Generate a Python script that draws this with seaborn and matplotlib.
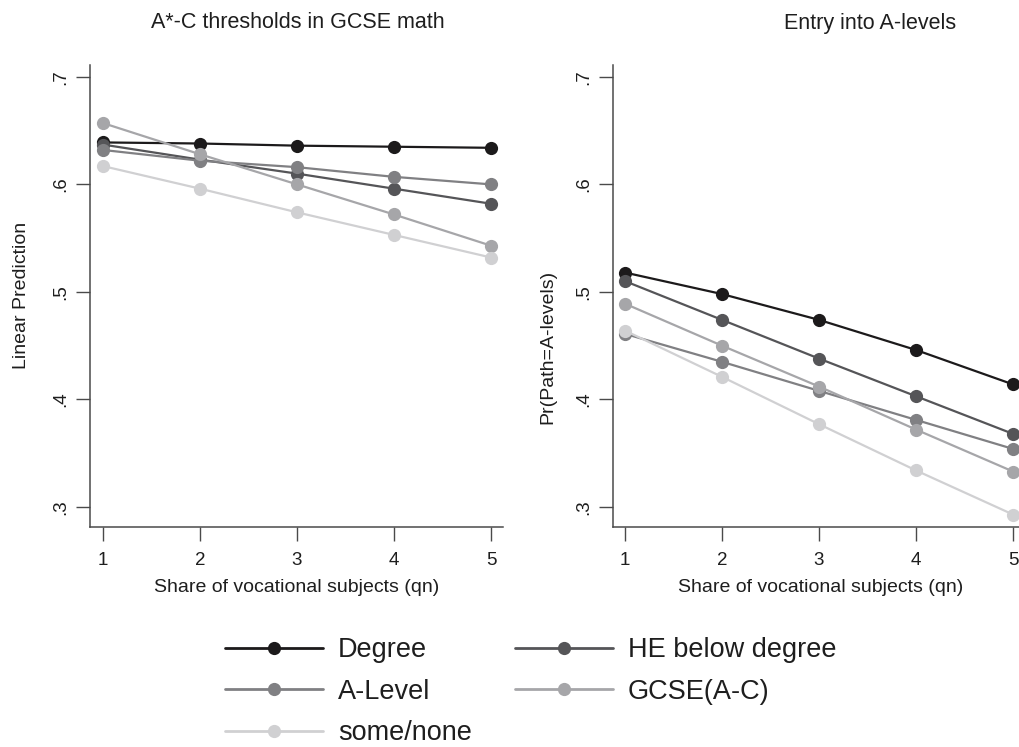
import numpy as np
import pandas as pd
import matplotlib
matplotlib.use("Agg")
import matplotlib.pyplot as plt
import seaborn as sns
from matplotlib.lines import Line2D

sns.set_theme(style="white")
plt.rcParams["font.family"] = ["Liberation Sans", "DejaVu Sans"]

# ---- data -------------------------------------------------------------
qn = [1, 2, 3, 4, 5]
groups = ["Degree", "HE below degree", "A-Level", "GCSE(A-C)", "some/none"]

# A*-C thresholds in GCSE math (linear prediction)
gcse_degree = [0.639, 0.638, 0.636, 0.635, 0.634]
gcse_he = [0.637, 0.623, 0.610, 0.596, 0.582]
gcse_alevel = [0.632, 0.622, 0.616, 0.607, 0.600]
gcse_gcse = [0.657, 0.628, 0.600, 0.572, 0.543]
gcse_none = [0.617, 0.596, 0.574, 0.553, 0.532]

# Entry into A-levels (predicted probability)
alev_degree = [0.518, 0.498, 0.474, 0.446, 0.414]
alev_he = [0.510, 0.474, 0.438, 0.403, 0.368]
alev_alevel = [0.461, 0.435, 0.408, 0.381, 0.354]
alev_gcse = [0.489, 0.450, 0.412, 0.372, 0.333]
alev_none = [0.464, 0.421, 0.377, 0.334, 0.293]

y_ticks = [0.3, 0.4, 0.5, 0.6, 0.7]
y_tick_labels = [".3", ".4", ".5", ".6", ".7"]

colors = ["#1c1a1b", "#555558", "#808083", "#a6a6a9", "#d0d0d2"]
palette = dict(zip(groups, colors))


def long_frame(series):
    rows = []
    for g, vals in zip(groups, series):
        for x, v in zip(qn, vals):
            rows.append({"qn": x, "value": v, "group": g})
    return pd.DataFrame(rows)


df_left = long_frame([gcse_degree, gcse_he, gcse_alevel, gcse_gcse, gcse_none])
df_right = long_frame([alev_degree, alev_he, alev_alevel, alev_gcse, alev_none])

# ---- figure -----------------------------------------------------------
W, H = 1020, 747
fig = plt.figure(figsize=(W / 100, H / 100), dpi=100)


def px_axes(x0, y0, x1, y1):
    return fig.add_axes([x0 / W, 1 - y1 / H, (x1 - x0) / W, (y1 - y0) / H])


ax1 = px_axes(90, 65, 503, 527)
ax2 = px_axes(613, 65, 1020, 527)

spine_col = "#4a4a4a"
for ax, df, xlim in [(ax1, df_left, (0.866, 5.124)), (ax2, df_right, (0.876, 5.072))]:
    sns.lineplot(data=df, x="qn", y="value", hue="group", hue_order=groups,
                 palette=palette, marker="o", markersize=9.5, markeredgewidth=0,
                 linewidth=1.6, legend=False, ax=ax, clip_on=False)
    ax.set_xlim(*xlim)
    ax.set_ylim(0.2814, 0.711)
    ax.set_xticks(qn)
    ax.set_xticklabels([str(v) for v in qn])
    ax.set_yticks(y_ticks)
    ax.set_yticklabels(y_tick_labels)
    ax.set_xlabel("")
    ax.set_ylabel("")
    for s in ["top", "right"]:
        ax.spines[s].set_visible(False)
    for s in ["left", "bottom"]:
        ax.spines[s].set_color(spine_col)
        ax.spines[s].set_linewidth(1.1)
    ax.tick_params(axis="both", which="major", length=10, width=1.0,
                   color=spine_col, labelcolor="#1e1e1e", labelsize=13.5,
                   direction="out", left=True, bottom=True)
    ax.tick_params(axis="y", pad=5)
    ax.tick_params(axis="x", pad=8)
    for lab in ax.get_yticklabels():
        lab.set_rotation(90)
        lab.set_va("center")
        lab.set_ha("right")
    ax.set_facecolor("white")

# titles and axis labels
txt = "#1e1e1e"
fig.text(298 / W, 1 - 23 / H, "A*-C thresholds in GCSE math", ha="center", va="center",
         fontsize=15.5, color=txt)
fig.text(870 / W, 1 - 23 / H, "Entry into A-levels", ha="center", va="center",
         fontsize=15.5, color=txt)
fig.text(22 / W, 1 - 295 / H, "Linear Prediction", rotation=90, ha="center", va="center",
         fontsize=14, color=txt)
fig.text(548 / W, 1 - 347 / H, "Pr(Path=A-levels)", rotation=90, ha="center", va="center",
         fontsize=14, color=txt)
fig.text(297 / W, 1 - 587 / H, "Share of vocational subjects (qn)", ha="center", va="center",
         fontsize=14, color=txt)
fig.text(821 / W, 1 - 587 / H, "Share of vocational subjects (qn)", ha="center", va="center",
         fontsize=14, color=txt)

# legend, filled row by row: Degree / HE, A-Level / GCSE, some/none
handles = {g: Line2D([0], [0], color=palette[g], linewidth=2.0, marker="o",
                     markersize=9.5, markeredgewidth=0) for g in groups}
order = ["Degree", "A-Level", "some/none", "HE below degree", "GCSE(A-C)"]
fig.legend([handles[g] for g in order], order, ncol=2, frameon=False,
           loc="upper left", bbox_to_anchor=(225 / W, 1 - 637 / H),
           fontsize=19.5, handlelength=3.62, handletextpad=0.55,
           columnspacing=1.6, labelspacing=0.58, borderpad=0, borderaxespad=0,
           labelcolor=txt)

fig.savefig("out.png", dpi=100, facecolor="white")
